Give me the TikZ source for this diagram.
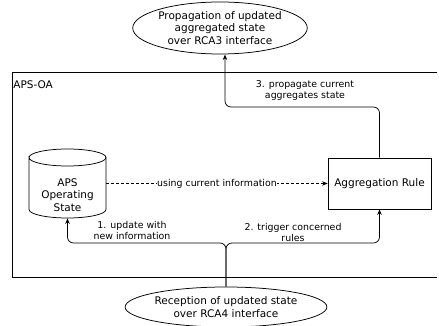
\documentclass[tikz,border=0pt]{standalone}
\usepackage{fontspec}
\setmainfont{DejaVu Sans}
\usetikzlibrary{shapes.geometric,arrows.meta,calc}
\begin{document}
\begin{tikzpicture}[x=1pt,y=-1pt, line width=0.75pt,
  >={Stealth[length=5.5pt,width=4.5pt]},
  lbl/.style={font=\fontsize{9.4}{11}\selectfont, align=center, inner sep=1pt},
  nodetxt/.style={font=\fontsize{10.5}{12.5}\selectfont, align=center},
  ell/.style={ellipse, draw, nodetxt, inner sep=0pt},
  conn/.style={->, rounded corners=6pt}]
\useasboundingbox (0,0) rectangle (439,326);
% outer frame
\draw (437,72) -- (12,72) -- (12,277) -- (437,277);
\node[nodetxt, anchor=west, inner sep=1pt] (frame) at (12,85) {APS-OA};
% ellipses
\node[ell, minimum width=150pt, minimum height=52pt] (top) at (220,28)
  {Propagation of updated\\aggregated state\\over RCA3 interface};
\node[ell, minimum width=164pt, minimum height=40pt] (bot) at (226,307)
  {Reception of updated state\\over RCA4 interface};
% cylinder
\node[minimum width=77pt, minimum height=69pt, inner sep=0pt] (cyl) at (67.5,183.5) {};
\draw (29,209.5) -- (29,157.5) arc[start angle=180, end angle=360, x radius=38.5pt, y radius=8.5pt]
  arc[start angle=0, end angle=180, x radius=38.5pt, y radius=8.5pt];
\draw (29,209.5) arc[start angle=180, end angle=360, x radius=38.5pt, y radius=8.5pt] -- (106,157.5);
\node[nodetxt] (cyltxt) at (67.5,195) {APS\\Operating\\State};
% aggregation rule
\node[draw, nodetxt, minimum width=103pt, minimum height=51pt] (agg) at (379.5,183.5) {Aggregation Rule};
% connectors
\coordinate (topin) at ($(top.south)+(5,0.2)$);
\draw[conn] (agg.north) |- (225,107) -- (topin);
\node[lbl] (l3) at (305,90) {3. propagate current\\aggregates state};
\draw[->, dashed, dash pattern=on 3pt off 2pt] (cyl.east) -- node[lbl, fill=white, inner sep=0.5pt] (lu) {using current information} (agg.west);
\coordinate (br) at (226,243);
\draw[conn] (bot.north) -- (br) -| (cyl.south);
\draw[conn] (bot.north) -- (br) -| (agg.south);
\node[lbl] (l1) at (132,230) {1. update with\\new information};
\node[lbl] (l2) at (293,232) {2. trigger concerned\\rules};
\end{tikzpicture}
\end{document}
